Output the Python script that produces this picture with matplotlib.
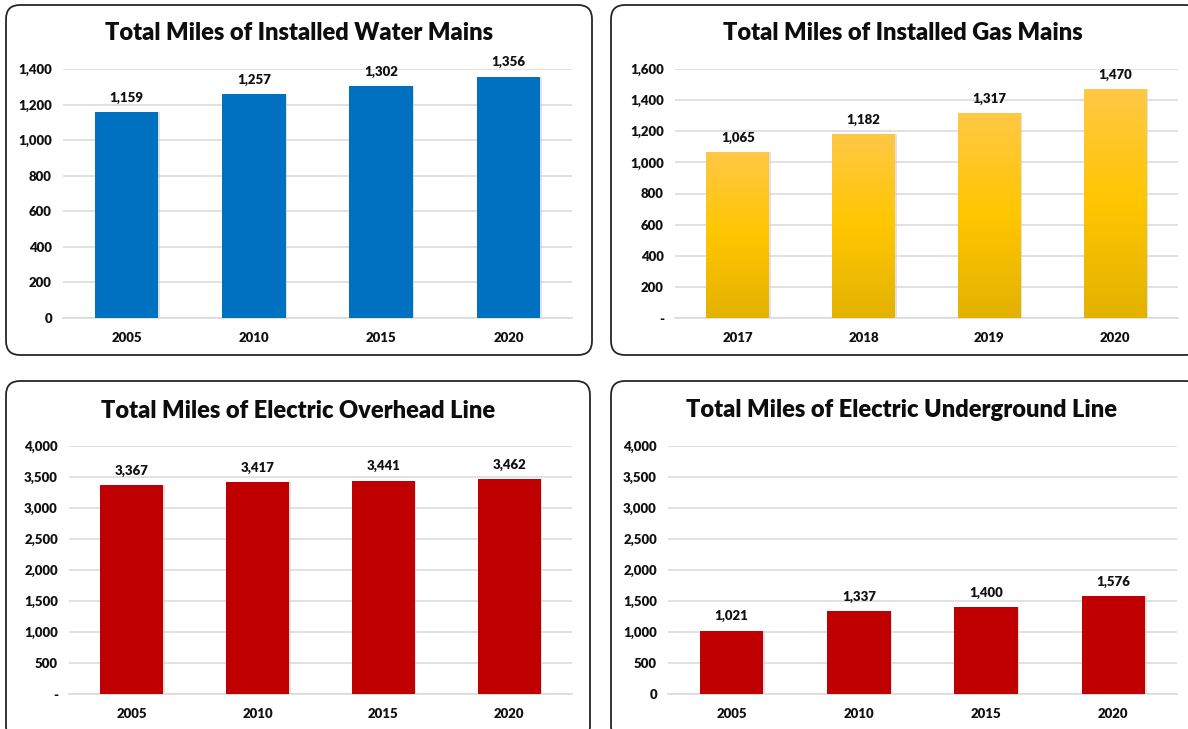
import matplotlib
matplotlib.use("Agg")
import matplotlib.pyplot as plt
import numpy as np
from matplotlib.patches import FancyBboxPatch
from matplotlib.ticker import FuncFormatter, MultipleLocator
from matplotlib.colors import LinearSegmentedColormap

plt.rcParams['font.family'] = ['Lato', 'DejaVu Sans']

W, H = 1188, 729

# ---- data ----
water_years = ["2005", "2010", "2015", "2020"]
water_miles = [1159, 1257, 1302, 1356]

gas_years = ["2017", "2018", "2019", "2020"]
gas_miles = [1065, 1182, 1317, 1470]

overhead_years = ["2005", "2010", "2015", "2020"]
overhead_miles = [3367, 3417, 3441, 3462]

underground_years = ["2005", "2010", "2015", "2020"]
underground_miles = [1021, 1337, 1400, 1576]

titles = ["Total Miles of Installed Water Mains",
          "Total Miles of Installed Gas Mains",
          "Total Miles of Electric Overhead Line",
          "Total Miles of Electric Underground Line"]

fig = plt.figure(figsize=(W / 100, H / 100), dpi=100)

# background layer for panel boxes (pixel coords)
bg = fig.add_axes([0, 0, 1, 1], zorder=0)
bg.set_xlim(0, W)
bg.set_ylim(H, 0)
bg.axis("off")

boxes = [(6, 5, 592, 355), (611, 5, 1200, 355), (6, 381, 590, 740), (611, 381, 1200, 740)]
for (x0, y0, x1, y1) in boxes:
    bg.add_patch(FancyBboxPatch((x0 + 14, y0 + 14), (x1 - x0) - 28, (y1 - y0) - 28,
                                boxstyle="round,pad=14", fc="white", ec="#262626", lw=1.3))


def px_axes(x0, y0, x1, y1):
    return fig.add_axes([x0 / W, 1 - y1 / H, (x1 - x0) / W, (y1 - y0) / H], zorder=1)


def fmt_factory(zero):
    def f(v, pos):
        if abs(v) < 1e-9:
            return zero
        return f"{v:,.0f}"
    return FuncFormatter(f)


panels = [
    dict(rect=(63, 69, 572, 318), cats=water_years, vals=water_miles, ymax=1400, step=200,
         zero="0", color="#0070C0", title_xy=(299, 33)),
    dict(rect=(675, 69, 1178, 318), cats=gas_years, vals=gas_miles, ymax=1600, step=200,
         zero="-", color="gradient", title_xy=(903, 33)),
    dict(rect=(69, 446, 572, 694), cats=overhead_years, vals=overhead_miles, ymax=4000, step=500,
         zero="-", color="#C00000", title_xy=(298, 411)),
    dict(rect=(668, 446, 1177, 694), cats=underground_years, vals=underground_miles, ymax=4000, step=500,
         zero="0", color="#C00000", title_xy=(902, 410)),
]

gas_cmap = LinearSegmentedColormap.from_list(
    "gas", [(0.0, "#E3B200"), (0.5, "#FFC600"), (1.0, "#FFC845")])

TW = "heavy"

for p, title in zip(panels, titles):
    ax = px_axes(*p["rect"])
    x = np.arange(len(p["cats"]))
    # subtle shadow
    ax.bar(x + 0.012, p["vals"], width=0.5, color="#d0d0d0", zorder=2, alpha=0.6)
    if p["color"] == "gradient":
        bars = ax.bar(x, p["vals"], width=0.5, color="#FFC600", zorder=3)
        grad = np.linspace(0, 1, 256).reshape(-1, 1)
        for b in bars:
            im = ax.imshow(grad, cmap=gas_cmap, origin="lower", aspect="auto",
                           extent=(b.get_x(), b.get_x() + b.get_width(), 0, b.get_height()),
                           zorder=4)
            im.set_clip_path(b)
    else:
        bars = ax.bar(x, p["vals"], width=0.5, color=p["color"], zorder=3)
    ax.bar_label(bars, labels=[f"{v:,.0f}" for v in p["vals"]], padding=6,
                 fontsize=9.5, fontweight=TW, color="#111111", zorder=5)
    ax.set_xlim(-0.5, len(x) - 0.5)
    ax.set_ylim(0, p["ymax"])
    ax.yaxis.set_major_locator(MultipleLocator(p["step"]))
    ax.yaxis.set_major_formatter(fmt_factory(p["zero"]))
    ax.set_xticks(x)
    ax.set_xticklabels(p["cats"])
    ax.grid(axis="y", color="#D9D9D9", lw=1.1, zorder=0)
    ax.set_axisbelow(True)
    for s in ["top", "right", "left"]:
        ax.spines[s].set_visible(False)
    ax.spines["bottom"].set_color("#D9D9D9")
    ax.spines["bottom"].set_linewidth(1.1)
    ax.tick_params(axis="both", length=0, labelsize=9.5, colors="#111111")
    ax.tick_params(axis="y", pad=8)
    ax.tick_params(axis="x", pad=10)
    for lab in ax.get_xticklabels() + ax.get_yticklabels():
        lab.set_fontweight(TW)
    ax.set_facecolor("none")
    tx, ty = p["title_xy"]
    bg.text(tx, ty, title, ha="center", va="center", fontsize=17, fontweight="heavy",
            color="#0d0d0d", zorder=5)

fig.savefig("out.png", dpi=100)
